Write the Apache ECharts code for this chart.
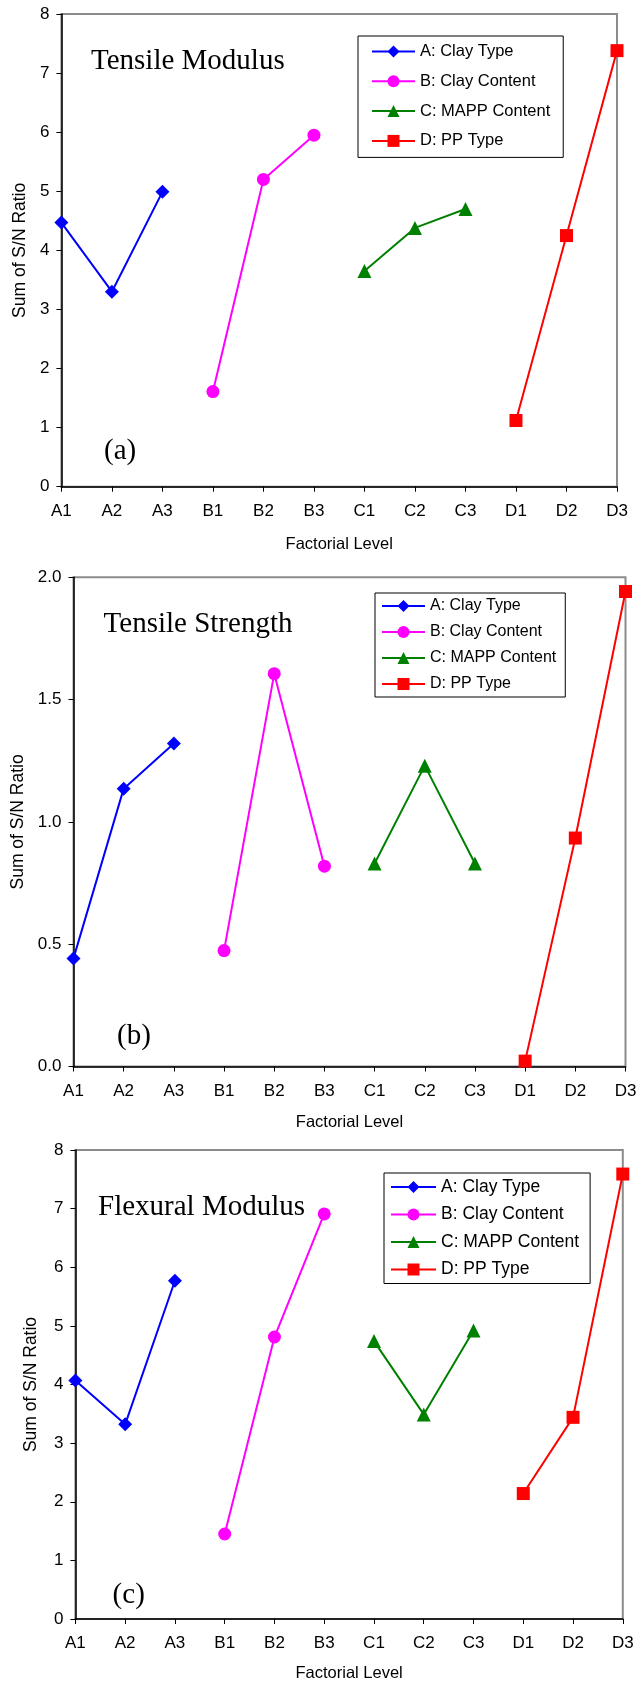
<!DOCTYPE html>
<html>
<head>
<meta charset="utf-8">
<title>Sum of S/N Ratio by factorial level</title>
<script src="https://cdn.jsdelivr.net/npm/echarts@6/dist/echarts.min.js"></script>
<style>
  html, body { margin: 0; padding: 0; background: #fff; }
  #main { width: 641px; height: 1683px; }
</style>
</head>
<body>
<div id="main"></div>
<script>
// factor levels on the x axis
var levels = ['A1', 'A2', 'A3', 'B1', 'B2', 'B3', 'C1', 'C2', 'C3', 'D1', 'D2', 'D3'];
var factors = ['A: Clay Type', 'B: Clay Content', 'C: MAPP Content', 'D: PP Type'];

// sum of S/N ratio, one value per level (3 levels per factor)
var tensileModulus = [4.47, 3.30, 4.99, 1.61, 5.20, 5.95, 3.65, 4.38, 4.70, 1.12, 4.25, 7.38];
var tensileStrength = [0.442, 1.136, 1.321, 0.474, 1.606, 0.819, 0.83, 1.23, 0.83, 0.022, 0.934, 1.942];
var flexuralModulus = [4.07, 3.32, 5.77, 1.45, 4.81, 6.91, 4.74, 3.49, 4.92, 2.14, 3.44, 7.59];

var colors = ['#0000ff', '#ff00ff', '#008000', '#ff0000'];
var symbols = ['diamond', 'circle', 'triangle', 'rect'];
var symbolSizes = [14, 13, 14, 13];

var sans = 'Arial, "Liberation Sans", sans-serif';
var serif = '"Times New Roman", "Liberation Serif", serif';

var panels = [
  { title: 'Tensile Modulus', tag: '(a)', values: tensileModulus, max: 8, interval: 1, digits: 0,
    grid: { left: 61.4, top: 14, width: 555.6, height: 472.7 },
    titlePos: [91, 47], tagPos: [104, 437], yGap: 31, xGap: 49,
    legend: { left: 358, top: 36, pad: [7, 13, 8, 13], gap: 12.8, w: 43, font: 16.5 } },
  { title: 'Tensile Strength', tag: '(b)', values: tensileStrength, max: 2, interval: 0.5, digits: 1,
    grid: { left: 73.5, top: 577.3, width: 552, height: 489.2 },
    titlePos: [103.6, 610], tagPos: [117, 1022], yGap: 43.5, xGap: 47,
    legend: { left: 375, top: 593, pad: [5, 9, 5, 6], gap: 10, w: 43, font: 16 } },
  { title: 'Flexural Modulus', tag: '(c)', values: flexuralModulus, max: 8, interval: 1, digits: 0,
    grid: { left: 75.4, top: 1150, width: 547.4, height: 472 },
    titlePos: [98, 1193], tagPos: [112.6, 1581], yGap: 35, xGap: 46,
    legend: { left: 384, top: 1173, pad: [5, 11, 5, 6], gap: 9.5, w: 45, font: 17.5 } }
];

var option = {
  backgroundColor: '#fff',
  animation: false,
  title: [],
  legend: [],
  grid: [],
  xAxis: [],
  yAxis: [],
  series: []
};

panels.forEach(function (p, k) {
  option.grid.push({
    left: p.grid.left, top: p.grid.top, width: p.grid.width, height: p.grid.height,
    show: true, borderColor: '#8c8c8c', borderWidth: 2, backgroundColor: '#fff'
  });

  option.title.push({
    text: p.title, left: p.titlePos[0], top: p.titlePos[1], padding: 0,
    textStyle: { fontFamily: serif, fontSize: 29, fontWeight: 'normal', color: '#000' }
  });
  option.title.push({
    text: p.tag, left: p.tagPos[0], top: p.tagPos[1], padding: 0,
    textStyle: { fontFamily: serif, fontSize: 29, fontWeight: 'normal', color: '#000' }
  });

  option.xAxis.push({
    type: 'category', gridIndex: k, data: levels, boundaryGap: false,
    name: 'Factorial Level', nameLocation: 'middle', nameGap: p.xGap,
    nameTextStyle: { fontFamily: sans, fontSize: 16.5, color: '#000' },
    axisLine: { lineStyle: { color: '#000', width: 1.5 } },
    axisTick: { show: true, length: 5, lineStyle: { color: '#000', width: 1 } },
    axisLabel: { interval: 0, margin: 16, fontFamily: sans, fontSize: 17, color: '#000' },
    splitLine: { show: false }
  });

  option.yAxis.push({
    type: 'value', gridIndex: k, min: 0, max: p.max, interval: p.interval,
    name: 'Sum of S/N Ratio', nameLocation: 'middle', nameGap: p.yGap, nameRotate: 90,
    nameTextStyle: { fontFamily: sans, fontSize: 17.5, color: '#000' },
    axisLine: { show: true, lineStyle: { color: '#000', width: 1.5 } },
    axisTick: { show: true, length: 5, lineStyle: { color: '#000', width: 1 } },
    axisLabel: {
      margin: 12, fontFamily: sans, fontSize: 17, color: '#000',
      formatter: function (v) { return v.toFixed(p.digits); }
    },
    splitLine: { show: false }
  });

  option.legend.push({
    orient: 'vertical', left: p.legend.left, top: p.legend.top,
    padding: p.legend.pad, itemGap: p.legend.gap,
    itemWidth: p.legend.w, itemHeight: 15,
    backgroundColor: '#fff', borderColor: '#000', borderWidth: 1,
    textStyle: { fontFamily: sans, fontSize: p.legend.font, color: '#000' },
    data: factors.slice()
  });

  factors.forEach(function (f, j) {
    option.series.push({
      name: f, type: 'line', xAxisIndex: k, yAxisIndex: k,
      data: p.values.map(function (v, i) { return Math.floor(i / 3) === j ? v : '-'; }),
      symbol: symbols[j], symbolSize: symbolSizes[j], showAllSymbol: true,
      lineStyle: { color: colors[j], width: 2 },
      itemStyle: { color: colors[j] },
      z: 3
    });
  });
});

var myChart = echarts.init(document.getElementById('main'));
myChart.setOption(option);
</script>
</body>
</html>
